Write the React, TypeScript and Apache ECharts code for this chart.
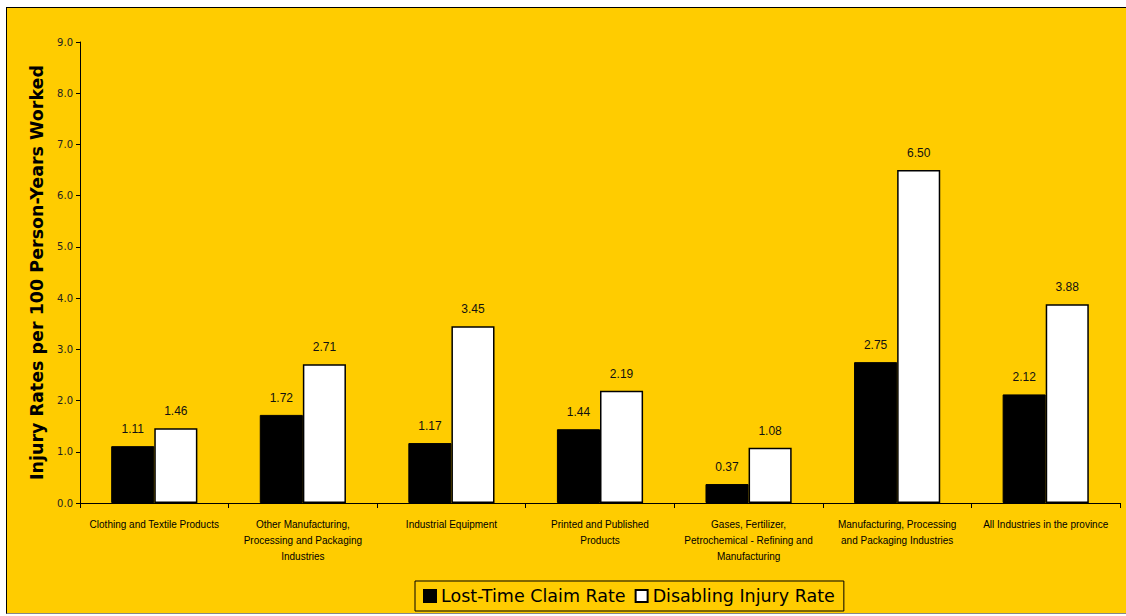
import React, { useEffect, useRef } from "react";
import * as echarts from "echarts";

const categories = [
  "Clothing and Textile Products",
  "Other Manufacturing,\nProcessing and Packaging\nIndustries",
  "Industrial Equipment",
  "Printed and Published\nProducts",
  "Gases, Fertilizer,\nPetrochemical - Refining and\nManufacturing",
  "Manufacturing, Processing\nand Packaging Industries",
  "All Industries in the province",
];
const lostTime = [1.11, 1.72, 1.17, 1.44, 0.37, 2.75, 2.12];
const disabling = [1.46, 2.71, 3.45, 2.19, 1.08, 6.5, 3.88];
const seriesNames = ["Lost-Time Claim Rate", "Disabling Injury Rate"];
const yTitle = "Injury Rates per 100 Person-Years Worked";

export default function App() {
  const ref = useRef<HTMLDivElement>(null);
  useEffect(() => {
    if (!ref.current) return;
    const chart = echarts.init(ref.current, null, { renderer: "svg" });
    const labelCfg = {
      show: true,
      position: "top",
      distance: 11,
      color: "#111",
      fontFamily: "Liberation Sans",
      fontSize: 12,
      formatter: (p: any) => Number(p.value).toFixed(2),
    };
    chart.setOption({
      animation: false,
      backgroundColor: "transparent",
      grid: { left: 80, right: 6, top: 42, bottom: 113, containLabel: false },
      legend: {
        left: 415,
        top: 581,
        orient: "horizontal",
        borderColor: "#000",
        borderWidth: 1,
        padding: [6, 9, 6, 8],
        itemGap: 9,
        itemWidth: 12,
        itemHeight: 12,
        icon: "rect",
        textStyle: { fontFamily: "DejaVu Sans", fontSize: 17.5, color: "#000" },
        data: seriesNames,
      },
      xAxis: {
        type: "category",
        data: categories,
        axisLine: { lineStyle: { color: "#000", width: 1 } },
        axisTick: { show: true, alignWithLabel: false, length: 5, lineStyle: { color: "#000" } },
        axisLabel: {
          interval: 0,
          margin: 13,
          fontFamily: "Liberation Sans",
          fontSize: 10,
          lineHeight: 16,
          color: "#000",
        },
      },
      yAxis: {
        type: "value",
        min: 0,
        max: 9,
        interval: 1,
        name: yTitle,
        nameLocation: "middle",
        nameGap: 34,
        nameTextStyle: { fontFamily: "DejaVu Sans", fontWeight: "bold", fontSize: 17.5, color: "#000" },
        axisLine: { show: true, lineStyle: { color: "#000", width: 1 } },
        axisTick: { show: true, length: 4, lineStyle: { color: "#000" } },
        splitLine: { show: false },
        axisLabel: {
          fontFamily: "DejaVu Sans",
          fontSize: 10,
          color: "#222",
          margin: 7,
          formatter: (v: number) => v.toFixed(1),
        },
      },
      series: [
        {
          name: seriesNames[0],
          type: "bar",
          data: lostTime,
          barGap: "0%",
          barCategoryGap: "42%",
          itemStyle: { color: "#000", borderColor: "#000", borderWidth: 1 },
          label: labelCfg,
        },
        {
          name: seriesNames[1],
          type: "bar",
          data: disabling,
          barGap: "0%",
          barCategoryGap: "42%",
          itemStyle: { color: "#fff", borderColor: "#000", borderWidth: 1.5 },
          label: labelCfg,
        },
      ],
    });
    return () => chart.dispose();
  }, []);
  return (
    <div style={{ position: "absolute", left: 0, top: 0, width: 1126, height: 616, background: "#fff", overflow: "hidden" }}>
      <div
        style={{
          position: "absolute",
          left: 6,
          top: 7,
          width: 1120,
          height: 607,
          boxSizing: "border-box",
          background: "#FFCC00",
          borderTop: "1.5px solid #000",
          borderLeft: "1.5px solid #000",
          borderBottom: "1px solid #888",
        }}
      />
      <div ref={ref} style={{ position: "absolute", left: 0, top: 0, width: 1126, height: 616 }} />
    </div>
  );
}
